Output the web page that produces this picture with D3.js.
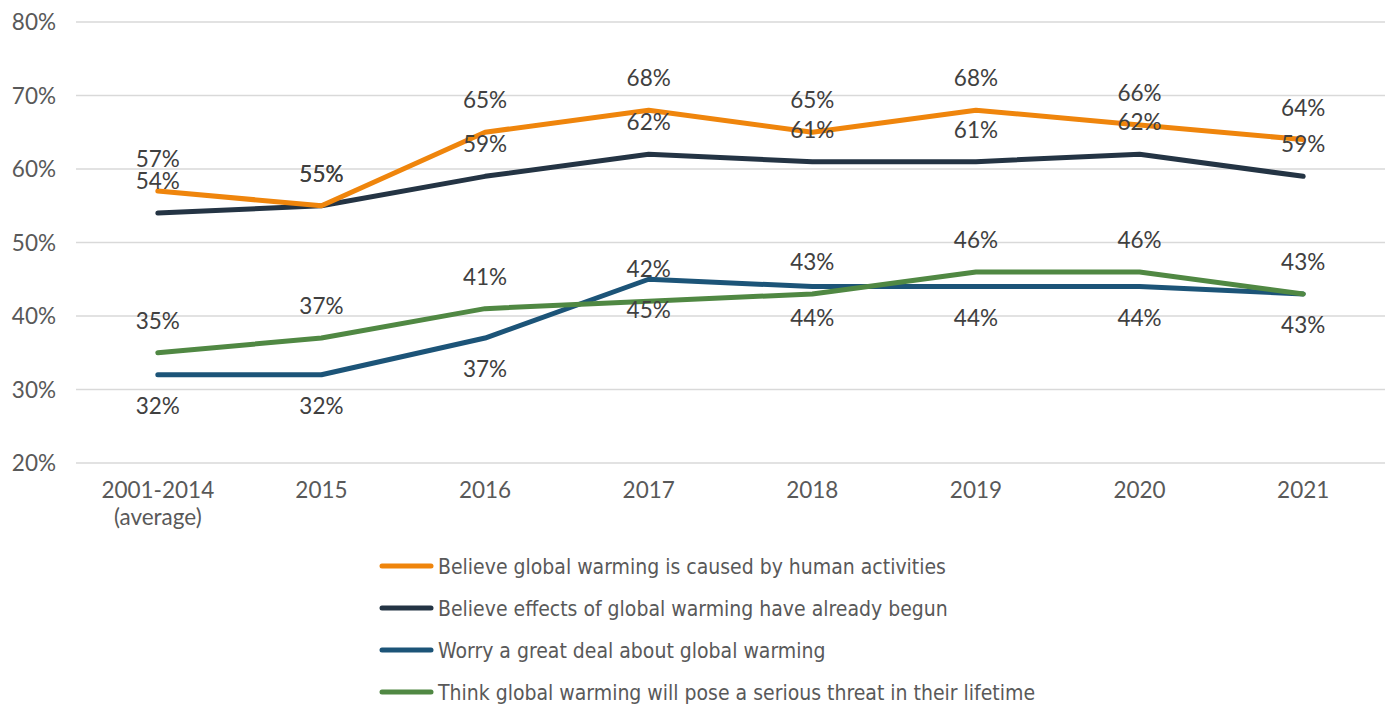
<!DOCTYPE html>
<html>
<head>
<meta charset="utf-8">
<script src="https://cdn.jsdelivr.net/npm/d3@7"></script>
<style>
  body { margin: 0; background: #fff; }
  svg text { font-family: Lato, "Open Sans", sans-serif; }
</style>
</head>
<body>
<div id="chart"></div>
<script>
const years = ['2001-2014', '2015', '2016', '2017', '2018', '2019', '2020', '2021'];
const human = [57, 55, 65, 68, 65, 68, 66, 64];
const begun = [54, 55, 59, 62, 61, 61, 62, 59];
const worry = [32, 32, 37, 45, 44, 44, 44, 43];
const threat = [35, 37, 41, 42, 43, 46, 46, 43];
const yTicks = [20, 30, 40, 50, 60, 70, 80];

const series = [
  {name: 'Believe global warming is caused by human activities', values: human, color: '#ef850c', dy: -32},
  {name: 'Believe effects of global warming have already begun', values: begun, color: '#243444', dy: -32},
  {name: 'Worry a great deal about global warming', values: worry, color: '#1c5478', dy: 31},
  {name: 'Think global warming will pose a serious threat in their lifetime', values: threat, color: '#508843', dy: -32}
];

const width = 1385, height = 704;
const svg = d3.select('#chart').append('svg').attr('width', width).attr('height', height);

const x = d3.scaleBand().domain(years).range([76, 1385]);
const y = d3.scaleLinear().domain([20, 80]).range([463, 22]);
const cx = d => x(d) + x.bandwidth() / 2;

// grid
svg.append('g').selectAll('line')
  .data(yTicks).enter().append('line')
  .attr('x1', 76).attr('x2', width)
  .attr('y1', d => y(d)).attr('y2', d => y(d))
  .attr('stroke', '#d9d9d9').attr('stroke-width', 1.5);

svg.append('g').selectAll('text')
  .data(yTicks).enter().append('text')
  .attr('x', 56).attr('y', d => y(d))
  .attr('dy', '0.36em')
  .attr('text-anchor', 'end')
  .attr('font-size', 22.5)
  .attr('fill', '#595959')
  .text(d => d + '%');

// x labels
svg.append('g').selectAll('text')
  .data(years).enter().append('text')
  .attr('x', d => cx(d)).attr('y', 498)
  .attr('text-anchor', 'middle')
  .attr('font-size', 22.5)
  .attr('fill', '#595959')
  .text(d => d);
svg.append('text')
  .attr('x', cx(years[0])).attr('y', 525)
  .attr('text-anchor', 'middle').attr('font-size', 22.5).attr('fill', '#595959')
  .text('(average)');

const line = d3.line().x((d, i) => cx(years[i])).y(d => y(d));

// worry and threat underneath, then begun, human on top
[series[2], series[3], series[1], series[0]].forEach(s => {
  svg.append('path')
    .attr('d', line(s.values))
    .attr('fill', 'none')
    .attr('stroke', s.color)
    .attr('stroke-width', 5)
    .attr('stroke-linecap', 'round')
    .attr('stroke-linejoin', 'round');
});

series.forEach(s => {
  svg.append('g').selectAll('text')
    .data(s.values).enter().append('text')
    .attr('x', (d, i) => cx(years[i]))
    .attr('y', d => y(d) + s.dy)
    .attr('dy', '0.36em')
    .attr('text-anchor', 'middle')
    .attr('font-size', 22.5)
    .attr('fill', '#404040')
    .text(d => d + '%');
});

// legend
const lg = svg.append('g').selectAll('g')
  .data(series).enter().append('g')
  .attr('transform', (d, i) => `translate(0, ${566 + i * 42})`);
lg.append('line')
  .attr('x1', 382).attr('x2', 431)
  .attr('stroke', d => d.color).attr('stroke-width', 5).attr('stroke-linecap', 'round');
lg.append('text')
  .attr('x', 438).attr('dy', '0.36em')
  .attr('font-size', 21)
  .style('font-family', '"Liberation Sans Narrow", "DejaVu Sans Condensed", sans-serif')
  .attr('fill', '#595959')
  .text(d => d.name);
</script>
</body>
</html>
